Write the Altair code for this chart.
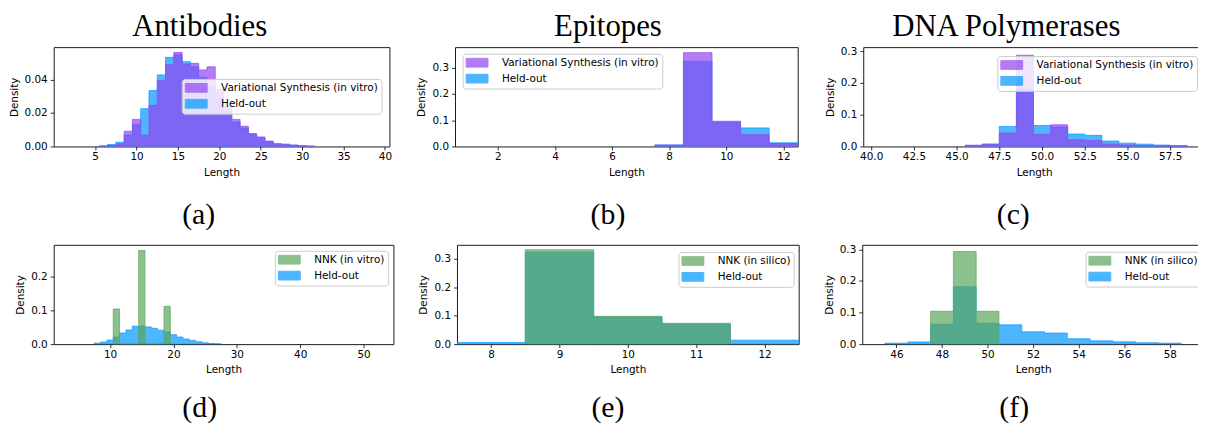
import altair as alt
import pandas as pd

# ---------------- data (bin centres, densities) ----------------
# Antibodies, top panel (a)
ab_len = list(range(6, 32))
ab_heldout = [0.0005, 0.0012, 0.0025, 0.0068, 0.0133, 0.0226, 0.0335, 0.0428, 0.0533, 0.0549,
              0.0507, 0.0478, 0.0414, 0.0360, 0.0290, 0.0210, 0.0147, 0.0110, 0.0071, 0.0053,
              0.0028, 0.0018, 0.0014, 0.0008, 0.0004, 0.0002]
ab_vs = [0.0000, 0.0006, 0.0016, 0.0091, 0.0162, 0.0067, 0.0246, 0.0394, 0.0489, 0.0562,
         0.0493, 0.0497, 0.0458, 0.0476, 0.0340, 0.0240, 0.0162, 0.0121, 0.0077, 0.0057,
         0.0032, 0.0014, 0.0012, 0.0008, 0.0004, 0.0002]
# Antibodies, bottom panel (d)
ab2_len = list(range(8, 28))
ab2_heldout = [0.003, 0.006, 0.012, 0.021, 0.033, 0.042, 0.053, 0.054, 0.051, 0.047,
               0.041, 0.036, 0.028, 0.021, 0.015, 0.011, 0.007, 0.004, 0.002, 0.001]
ab_nnk_len = list(range(11, 20))
ab_nnk = [0.104, 0.0, 0.0, 0.0, 0.277, 0.0, 0.0, 0.0, 0.112]
# Epitopes (b), (e)
ep_len = [8, 9, 10, 11, 12]
ep_heldout = [0.006, 0.324, 0.096, 0.0706, 0.014]
ep_vs = [0.005, 0.357, 0.093, 0.045, 0.011]
ep_nnk_len = [9, 10, 11]
ep_nnk = [0.3326, 0.098, 0.0735]
# DNA polymerases (c), (f)
pol_len = list(range(46, 59))
pol_heldout = [0.003, 0.007, 0.063, 0.182, 0.066, 0.061, 0.039, 0.035, 0.017, 0.0105, 0.0073, 0.0045, 0.003]
pol_vs = [0.004, 0.0075, 0.042, 0.287, 0.038, 0.068, 0.021, 0.019, 0.0075, 0.005, 0.003, 0.002, 0.001]
pol_nnk_len = [48, 49, 50]
pol_nnk = [0.104, 0.293, 0.104]

VS = "Variational Synthesis (in vitro)"
HO = "Held-out"
NNK_VITRO = "NNK (in vitro)"
NNK_SILICO = "NNK (in silico)"

PURPLE = "#9444f1"
BLUE = "#0097ff"
GREEN = "#5ba55b"

SANS = "DejaVu Sans"
SERIF = "Liberation Serif"


def steps(centers, values, label):
    xs = [c - 0.5 for c in centers] + [centers[-1] + 0.5]
    ys = list(values) + [values[-1]]
    return pd.DataFrame({"Length": xs, "Density": ys, "series": label})


def panel(under, over, labels, colors, xdom, ydom, xticks, yticks, xfmt, yfmt,
          width, lx, ly, caption, cx, cy, title=None, tx=0):
    sc = alt.Scale(domain=labels, range=colors)
    leg = alt.Legend(orient="none", legendX=lx, legendY=ly, title=None,
                     fillColor="rgba(255,255,255,0.8)", strokeColor="#cccccc",
                     cornerRadius=3, padding=3,
                     symbolType="M-2,-0.8H2V0.8H-2Z", symbolSize=121,
                     symbolOffset=5.5, symbolOpacity=0.7, symbolStrokeWidth=1,
                     labelFont=SANS, labelFontSize=10.5, labelColor="black",
                     labelOffset=19, rowPadding=2, labelLimit=400)
    x = alt.X("Length:Q", scale=alt.Scale(domain=xdom, nice=False, zero=False),
              axis=alt.Axis(values=xticks, format=xfmt, title="Length"))
    y = alt.Y("Density:Q", stack=None, scale=alt.Scale(domain=ydom, nice=False, zero=True),
              axis=alt.Axis(values=yticks, format=yfmt, title="Density"))
    layers = []
    for df in (under, over):
        layers.append(
            alt.Chart(df).mark_area(interpolate="step-after", fillOpacity=0.7,
                                    strokeOpacity=0.7, strokeWidth=1, clip=True)
            .encode(x=x, y=y,
                    color=alt.Color("series:N", scale=sc, legend=leg),
                    stroke=alt.Stroke("series:N", scale=sc, legend=leg))
        )
    cap = alt.Chart(pd.DataFrame({"t": [caption]})).mark_text(
        font=SERIF, fontSize=30, baseline="middle", align="center", color="black"
    ).encode(text="t:N", x=alt.value(cx), y=alt.value(cy))
    layers.append(cap)
    if title is not None:
        tt = alt.Chart(pd.DataFrame({"t": [title]})).mark_text(
            font=SERIF, fontSize=31, baseline="alphabetic", align="center", color="black"
        ).encode(text="t:N", x=alt.value(tx), y=alt.value(-11))
        layers.append(tt)
    return alt.layer(*layers).properties(width=width, height=100)


a = panel(steps(ab_len, ab_heldout, HO), steps(ab_len, ab_vs, VS), [VS, HO], [PURPLE, BLUE],
          [-0.01, 40.54], [0, 0.0594], [5, 10, 15, 20, 25, 30, 35, 40], [0, 0.02, 0.04], "d", ".2f",
          338, 129, 32, "(a)", 146, 169, "Antibodies", 147)
b = panel(steps(ep_len, ep_heldout, HO), steps(ep_len, ep_vs, VS), [VS, HO], [PURPLE, BLUE],
          [0.5, 12.5], [0, 0.378], [2, 4, 6, 8, 10, 12], [0, 0.1, 0.2, 0.3], "d", ".1f",
          345, 7.7, 6.7, "(b)", 154, 169, "Epitopes", 154)
c = panel(steps(pol_len, pol_heldout, HO), steps(pol_len, pol_vs, VS), [VS, HO], [PURPLE, BLUE],
          [39.535, 59.535], [0, 0.3125], [40, 42.5, 45, 47.5, 50, 52.5, 55, 57.5], [0, 0.1, 0.2, 0.3],
          ".1f", ".1f", 344, 135, 9, "(c)", 151, 169, "DNA Polymerases", 144)
d = panel(steps(ab2_len, ab2_heldout, HO), steps(ab_nnk_len, ab_nnk, NNK_VITRO), [NNK_VITRO, HO],
          [GREEN, BLUE], [1.10, 54.7], [0, 0.294], [10, 20, 30, 40, 50], [0, 0.1, 0.2], "d", ".1f",
          342, 222.7, 6, "(d)", 147, 164)
e = panel(steps(ep_len, ep_heldout, HO), steps(ep_nnk_len, ep_nnk, NNK_SILICO), [NNK_SILICO, HO],
          [GREEN, BLUE], [7.5, 12.5], [0, 0.35], [8, 9, 10, 11, 12], [0, 0.1, 0.2, 0.3], "d", ".1f",
          344, 223, 7.3, "(e)", 152, 164)
f = panel(steps(pol_len, pol_heldout, HO), steps(pol_nnk_len, pol_nnk, NNK_SILICO), [NNK_SILICO, HO],
          [GREEN, BLUE], [44.50, 59.50], [0, 0.3145], [46, 48, 50, 52, 54, 56, 58], [0, 0.1, 0.2, 0.3],
          "d", ".1f", 344, 224.7, 7, "(f)", 153, 164)

res = dict(color="independent", stroke="independent")
row1 = alt.hconcat(a, b, c, spacing=66, bounds="flush").resolve_scale(**res).resolve_legend(**res)
row2 = alt.hconcat(d, e, f, spacing=64, bounds="flush").resolve_scale(**res).resolve_legend(**res)

chart = (
    alt.concat(row1, row2, columns=1, spacing=13, align="none")
    .resolve_scale(**res).resolve_legend(**res)
    .properties(autosize=alt.AutoSizeParams(type="none"),
                padding={"left": 46, "top": 38, "right": 1152, "bottom": 378},
                background="white")
    .configure_view(stroke="#1a1a1a", strokeWidth=1)
    .configure_axis(labelFont=SANS, labelFontSize=10.5, labelColor="black",
                    titleFont=SANS, titleFontSize=10.5, titleFontWeight="normal", titleColor="black",
                    tickColor="black", tickWidth=0.8, tickSize=3.5, labelPadding=2,
                    titlePadding=5, domain=False, grid=False, labelFlush=False,
                    labelOverlap=False, labelBound=False)
    .configure_axisY(titlePadding=5, labelPadding=3)
)

chart.save("out.html", embed_options={"renderer": "svg", "actions": False})
